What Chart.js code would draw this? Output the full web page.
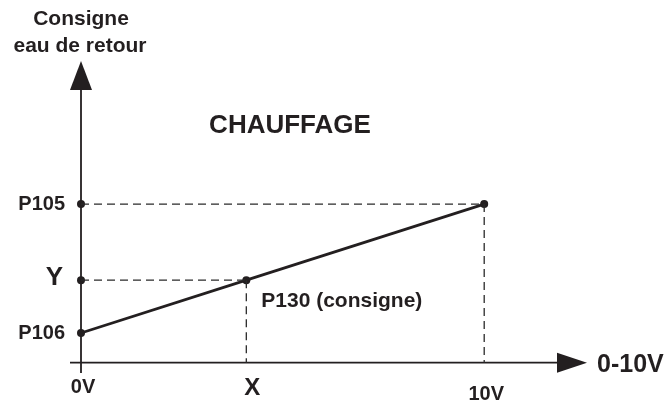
<!DOCTYPE html>
<html>
<head>
<meta charset="utf-8">
<script src="https://cdn.jsdelivr.net/npm/chart.js@4.4.1/dist/chart.umd.min.js"></script>
<style>
  html, body { margin: 0; padding: 0; background: #fff; }
  #wrap { width: 669px; height: 405px; }
</style>
</head>
<body>
<div id="wrap"><canvas id="chauffageChart" width="669" height="405"></canvas></div>
<script>
// data (0-10V input -> return water setpoint)
var xTicks = [0, 4.1, 10];
var xTickLabels = ["0V", "X", "10V"];
var yTicks = [0, 0.41, 1];
var yTickLabels = ["P106", "Y", "P105"];
var lineX = [0, 4.1, 10];
var lineY = [0, 0.41, 1];

var INK = "#231f20";
var FONT = "'Liberation Sans', Arial, sans-serif";
var AXIS_Y = -0.23;   // where the horizontal axis crosses

function pts(xs, ys) {
  var out = [];
  for (var i = 0; i < xs.length; i++) out.push({ x: xs[i], y: ys[i] });
  return out;
}

function dashed(a, b) {
  return {
    data: [a, b],
    showLine: true,
    borderColor: "#2a2a2a",
    borderWidth: 1.3,
    borderDash: [8, 5],
    pointRadius: 0,
    clip: false
  };
}

var diagramPlugin = {
  id: "diagram",
  beforeDatasetsDraw: function (chart) {
    var ctx = chart.ctx;
    var xs = chart.scales.x, ys = chart.scales.y;
    var x0 = xs.getPixelForValue(0);
    var yAx = ys.getPixelForValue(AXIS_Y);
    var top = chart.chartArea.top, right = chart.chartArea.right;
    ctx.save();
    ctx.strokeStyle = INK;
    ctx.fillStyle = INK;
    ctx.lineWidth = 1.8;
    ctx.beginPath();
    ctx.moveTo(x0, top + 20);
    ctx.lineTo(x0, chart.chartArea.bottom);
    ctx.moveTo(x0 - 11, yAx);
    ctx.lineTo(right - 20, yAx);
    ctx.stroke();
    // arrow heads
    ctx.beginPath();
    ctx.moveTo(x0, top);
    ctx.lineTo(x0 + 11, top + 29);
    ctx.lineTo(x0 - 11, top + 29);
    ctx.closePath();
    ctx.fill();
    ctx.beginPath();
    ctx.moveTo(right + 2, yAx);
    ctx.lineTo(right - 28, yAx - 10);
    ctx.lineTo(right - 28, yAx + 10);
    ctx.closePath();
    ctx.fill();
    ctx.restore();
  },
  afterDraw: function (chart) {
    var ctx = chart.ctx;
    var xs = chart.scales.x, ys = chart.scales.y;
    var x0 = xs.getPixelForValue(0);
    var yAx = ys.getPixelForValue(AXIS_Y);
    ctx.save();
    ctx.fillStyle = INK;
    ctx.textBaseline = "middle";

    // y tick labels
    ctx.textAlign = "right";
    for (var i = 0; i < yTicks.length; i++) {
      var big = yTickLabels[i] === "Y";
      ctx.font = "bold " + (big ? 26 : 20) + "px " + FONT;
      ctx.fillText(yTickLabels[i], x0 - (big ? 18 : 16), ys.getPixelForValue(yTicks[i]) - (big ? 2 : 0));
    }
    // x tick labels
    ctx.textAlign = "center";
    var xOff = [25, 26, 32];
    for (var j = 0; j < xTicks.length; j++) {
      var bigX = xTickLabels[j] === "X";
      ctx.font = "bold " + (bigX ? 24 : 20) + "px " + FONT;
      ctx.fillText(xTickLabels[j], xs.getPixelForValue(xTicks[j]) + (j === 1 ? 6 : 2), yAx + xOff[j]);
    }
    // axis titles
    ctx.font = "bold 21px " + FONT;
    ctx.fillText("Consigne", x0, 19);
    ctx.fillText("eau de retour", x0 - 1, 46);
    ctx.textAlign = "left";
    ctx.font = "bold 25px " + FONT;
    ctx.fillText("0-10V", chart.chartArea.right + 12, yAx + 2);

    // annotations
    ctx.font = "bold 26px " + FONT;
    ctx.textAlign = "center";
    ctx.fillText("CHAUFFAGE", 290, 126);
    ctx.font = "bold 21px " + FONT;
    ctx.textAlign = "left";
    ctx.fillText("P130 (consigne)", xs.getPixelForValue(lineX[1]) + 15, ys.getPixelForValue(lineY[1]) + 21);
    ctx.restore();
  }
};

var ctx = document.getElementById("chauffageChart").getContext("2d");
var chart = new Chart(ctx, {
  type: "scatter",
  data: {
    datasets: [
      dashed({ x: xTicks[0], y: yTicks[2] }, { x: xTicks[2], y: yTicks[2] }),
      dashed({ x: xTicks[2], y: yTicks[2] }, { x: xTicks[2], y: AXIS_Y }),
      dashed({ x: xTicks[0], y: yTicks[1] }, { x: xTicks[1], y: yTicks[1] }),
      dashed({ x: xTicks[1], y: yTicks[1] }, { x: xTicks[1], y: AXIS_Y }),
      {
        data: pts(lineX, lineY),
        showLine: true,
        borderColor: INK,
        borderWidth: 2.8,
        pointRadius: 4,
        pointBackgroundColor: INK,
        pointBorderWidth: 0,
        clip: false
      },
      {
        data: pts([0, 0], [yTicks[1], yTicks[2]]),
        pointRadius: 4,
        pointBackgroundColor: INK,
        pointBorderWidth: 0,
        clip: false
      }
    ]
  },
  options: {
    responsive: false,
    animation: false,
    events: [],
    layout: { padding: { left: 81, right: 84, top: 61, bottom: 32 } },
    scales: {
      x: { type: "linear", min: 0, max: 12.5, display: false },
      y: { type: "linear", min: -0.31, max: 2.11, display: false }
    },
    plugins: {
      legend: { display: false },
      tooltip: { enabled: false }
    }
  },
  plugins: [diagramPlugin]
});
</script>
</body>
</html>
